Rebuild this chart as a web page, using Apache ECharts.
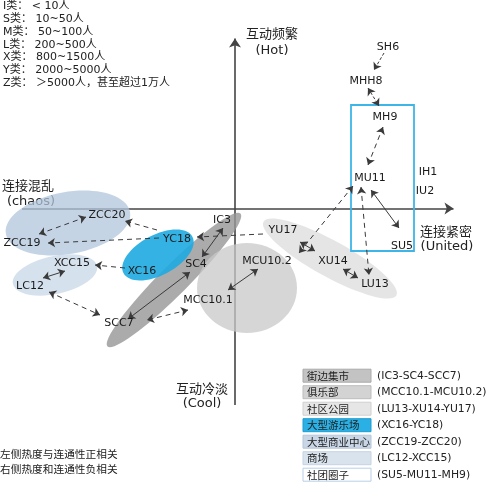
<!DOCTYPE html>
<html><head><meta charset="utf-8">
<script src="https://cdn.jsdelivr.net/npm/echarts@6/dist/echarts.min.js"></script>
<style>html,body{margin:0;padding:0;background:#fff}#c{width:500px;height:484px}</style>
</head><body><div id="c"></div>
<script>
// ---- data (diagram space: x = connectivity, y = interaction heat) ----
const pointNames = ['SH6','MHH8','MH9','IH1','MU11','IU2','SU5','YU17','XU14','LU13','MCU10.2','MCC10.1','IC3','SC4','SCC7','YC18','XC16','ZCC20','ZCC19','XCC15','LC12'];
const connectivity = [30.6,26.2,30,38.6,27,38,33.4,9.6,19.6,28,6.4,-5.4,-2.6,-7.8,-23.2,-11.6,-18.6,-25.6,-42.6,-32.6,-41];
const heat = [32.3,25.5,18.3,7.3,6.1,3.5,-7.5,-4.3,-10.5,-15.1,-10.5,-18.3,-2.3,-11.1,-22.9,-6.1,-12.5,-1.3,-6.9,-10.9,-15.5];

const arrowFrom = [[29.8,31.1],[26.6,24.1],[26.6,8.7],[27.2,3.7],[25.2,4.3],[23.6,4.5],[13,-6.7],[21.6,-12.1],[5.6,-5.1],[-2.4,-3.9],[4.6,-12.1],[-9,-12.7],[-9.4,-20.3],[-37.2,-16.7],[-38.4,-13.9],[-22,-11.9],[-15.2,-5.9],[-15.6,-4.3],[-29.8,-1.7]];
const arrowTo   = [[27.8,27.7],[28.8,20.5],[29.6,16.3],[32.8,-3.9],[26.8,-13.3],[12.8,-8.9],[16,-8.5],[24.6,-13.9],[-7.6,-5.7],[-6.6,-9.7],[-1.4,-16.3],[-21.4,-22.1],[-17.6,-22.3],[-27,-21.3],[-34,-12.5],[-28,-11.3],[-37.4,-6.9],[-22,-2.5],[-39.2,-5.1]];
const arrowLine  = ['dot','dot','dash','solid','dash','dash','solid','solid','dash','solid','solid','solid','dash','dash','solid','dash','dash','dash','dash'];
const arrowHeads = [1,2,2,2,2,2,2,2,1,2,2,2,2,2,2,1,1,1,2];

const groupNames   = ['街边集市','俱乐部','社区公园','大型游乐场','大型商业中心','商场','社团圈子'];
const groupMembers = ['(IC3-SC4-SCC7)','(MCC10.1-MCU10.2)','(LU13-XU14-YU17)','(XC16-YC18)','(ZCC19-ZCC20)','(LC12-XCC15)','(SU5-MU11-MH9)'];
// ellipse per group: centre x, centre y, half-length, half-width, tilt (deg)
const groupCx   = [-12.2, 2.4, 19, -15.4, -33.4, -36];
const groupCy   = [-14.3, -15.9, -10, -9.3, -2.9, -13.3];
const groupRx   = [18.8, 10, 15.2, 7.8, 12.6, 8.6];
const groupRy   = [2.9, 9, 3.6, 4, 6.2, 3.8];
const groupTilt = [45, 0, -29, 28, 10, 12];
const clubBoxX = [23.2, 35.8];
const clubBoxY = [-8.5, 20.7];

const axisX = [-42.6, 43.7];
const axisY = [-39.3, 34];

const sizeClasses = ['I类： < 10人','S类： 10~50人','M类： 50~100人','L类： 200~500人','X类： 800~1500人','Y类： 2000~5000人','Z类： ＞5000人，甚至超过1万人'];
const notes = ['左侧热度与连通性正相关','右侧热度和连通性负相关'];

// ---- styles ----
const ellipseColors = ['rgba(150,150,150,0.8)','rgba(200,200,200,0.75)','rgba(222,222,222,0.8)','rgba(30,170,225,0.9)','rgba(176,198,220,0.75)','rgba(200,215,232,0.75)'];
const legendFill   = ['#c3c3c3','#d3d3d3','#e6e6e6','#2ab0e4','#c8d6e5','#d9e3ed','#ffffff'];
const legendStroke = ['#aaaaaa','#bdbdbd','#d0d0d0','#1e9cd0','#b4c6d8','#c6d3e0','#b8cfe6'];
const LATIN = '"DejaVu Sans","Noto Sans CJK SC",sans-serif';
const CJK = '"Noto Sans CJK SC","DejaVu Sans",sans-serif';

function arrowSeries(kind, heads) {
  const idx = [];
  arrowLine.forEach((k, i) => { if (k === kind && arrowHeads[i] === heads) idx.push(i); });
  return {
    type: 'lines', coordinateSystem: 'cartesian2d', z: 4, silent: true,
    symbol: heads === 2 ? ['arrow','arrow'] : ['none','arrow'],
    symbolSize: 7,
    lineStyle: { color: '#3a3a3a', width: 1, opacity: 1,
      type: kind === 'solid' ? 'solid' : (kind === 'dot' ? [3,2] : [5,4]) },
    data: idx.map(i => ({ coords: [arrowFrom[i], arrowTo[i]] }))
  };
}

const graphics = [];
graphics.push({ type:'text', x:3, y:0, z:10, style:{ text: sizeClasses.join('\n'), fontSize:11, lineHeight:12.8, fontFamily: LATIN, fill:'#222', align:'left', verticalAlign:'top' }});
graphics.push({ type:'text', x:0, y:446, z:10, style:{ text: notes.join('\n'), fontSize:10.7, lineHeight:15, fontFamily: CJK, fill:'#222', align:'left', verticalAlign:'top' }});
const titles = [
  ['互动频繁', 272, 33, 13, CJK], ['(Hot)', 272, 51, 13, LATIN],
  ['连接混乱', 28, 185, 13, CJK], ['(chaos)', 31, 202, 13, LATIN],
  ['连接紧密', 446, 231, 13, CJK], ['(United)', 447, 247, 13, LATIN],
  ['互动冷淡', 202, 388, 13, CJK], ['(Cool)', 202, 404, 13, LATIN]
];
titles.forEach(t => graphics.push({ type:'text', x:t[1], y:t[2], z:0, style:{ text:t[0], fontSize:t[3], fontFamily:t[4], fill:'#222', align:'center', verticalAlign:'middle' }}));
groupNames.forEach((g, i) => {
  const yc = 375.7 + 16.5 * i;
  graphics.push({ type:'rect', x:303, y:yc-6.5, z:10, shape:{ width:68, height:13 }, style:{ fill: legendFill[i], stroke: legendStroke[i], lineWidth:1 }});
  graphics.push({ type:'text', x:307, y:yc, z:11, style:{ text:g, fontSize:10.5, fontFamily:CJK, fill:'#222', align:'left', verticalAlign:'middle' }});
  graphics.push({ type:'text', x:377, y:yc, z:11, style:{ text:groupMembers[i], fontSize:10.8, fontFamily:LATIN, fill:'#222', align:'left', verticalAlign:'middle' }});
});

const option = {
  animation: false,
  backgroundColor: '#fff',
  grid: { left: 0, top: 0, width: 500, height: 484 },
  xAxis: { type:'value', min:-47, max:53, show:false },
  yAxis: { type:'value', min:-55.1, max:41.7, show:false },
  graphic: graphics,
  series: [
    { type:'lines', coordinateSystem:'cartesian2d', z:1, silent:true,
      symbol:['none','arrow'], symbolSize:9,
      lineStyle:{ color:'#444', width:1.6, opacity:1, type:'solid' },
      data:[ { coords:[[axisX[0],0],[axisX[1],0]] }, { coords:[[0,axisY[0]],[0,axisY[1]]] } ] },
    { type:'custom', z:2, silent:true, clip:false,
      data: groupCx.map((cx,i) => [cx, groupCy[i], groupRx[i], groupRy[i], groupTilt[i]]),
      encode:{ x:0, y:1 },
      renderItem: function(params, api){
        const c = api.coord([api.value(0), api.value(1)]);
        const s = api.size([api.value(2), api.value(3)]);
        return { type:'ellipse', x:c[0], y:c[1], rotation: api.value(4)*Math.PI/180,
          shape:{ cx:0, cy:0, rx:s[0], ry:s[1] }, style:{ fill: ellipseColors[params.dataIndex] } };
      } },
    { type:'custom', z:3, silent:true, clip:false,
      data: [[clubBoxX[0], clubBoxY[1], clubBoxX[1], clubBoxY[0]]],
      encode:{ x:[0,2], y:[1,3] },
      renderItem: function(params, api){
        const p1 = api.coord([api.value(0), api.value(1)]);
        const p2 = api.coord([api.value(2), api.value(3)]);
        return { type:'rect', shape:{ x:p1[0], y:p1[1], width:p2[0]-p1[0], height:p2[1]-p1[1] },
          style:{ fill:'none', stroke:'#3db5e8', lineWidth:1.8 } };
      } },
    arrowSeries('solid', 2),
    arrowSeries('dash', 2),
    arrowSeries('dash', 1),
    arrowSeries('dot', 2),
    arrowSeries('dot', 1),
    { type:'custom', z:5, silent:true, clip:false,
      data: pointNames.map((n,i) => [connectivity[i], heat[i]]),
      encode:{ x:0, y:1 },
      renderItem: function(params, api){
        const c = api.coord([api.value(0), api.value(1)]);
        return { type:'text', x:c[0], y:c[1],
          style:{ text: pointNames[params.dataIndex], fontSize:11, fontFamily:LATIN, fill:'#1a1a1a', align:'center', verticalAlign:'middle' } };
      } }
  ]
};
const chart = echarts.init(document.getElementById('c'), null, { renderer:'canvas' });
chart.setOption(option);
</script></body></html>
